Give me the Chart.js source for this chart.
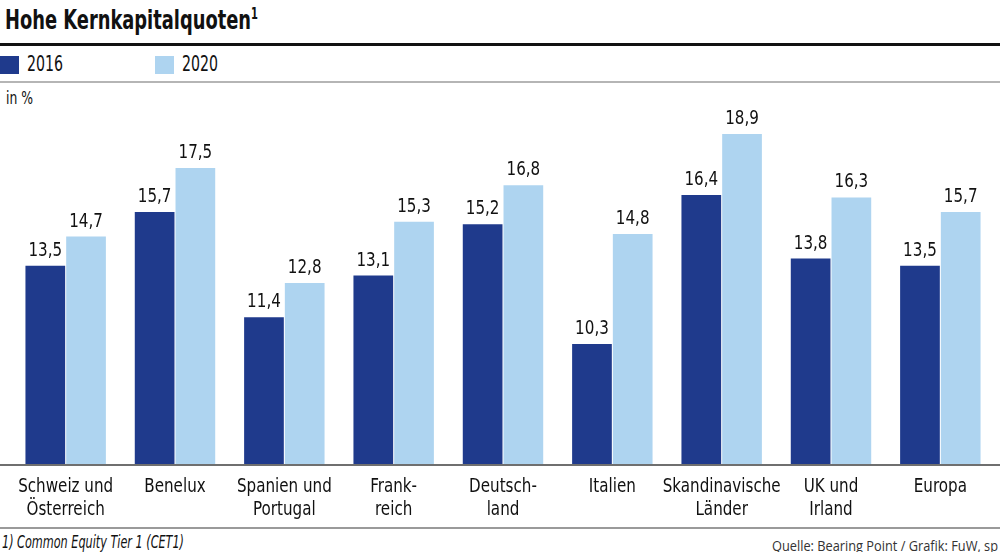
<!DOCTYPE html>
<html><head><meta charset="utf-8">
<script src="https://cdn.jsdelivr.net/npm/chart.js@4"></script>
<style>
html,body{margin:0;padding:0;background:#fff;width:1000px;height:552px;overflow:hidden;position:relative;font-family:"DejaVu Sans Condensed","DejaVu Sans",sans-serif;color:#111}
.abs{position:absolute;white-space:nowrap}
.fit{transform-origin:left top}
#title{left:5px;top:4px;font-size:27px;font-weight:bold}
#title sup{font-size:15px;vertical-align:top;position:relative;top:1px}
#rule1{left:0;top:43px;width:1000px;height:3px;background:#111}
.sw{top:56px;width:19px;height:18px}
.lg{top:52px;font-size:21px}
#rule2{left:0;top:81px;width:1000px;height:2px;background:#b5b5b5}
#unit{left:6px;top:88px;font-size:17px}
#axis{left:0;top:464px;width:1000px;height:2px;background:#6f6f6f}
#rule3{left:0;top:527px;width:1000px;height:2px;background:#9a9a9a}
#foot{left:2px;top:532px;font-size:17px;font-style:italic}
#src{left:772px;top:535px;font-size:15px;font-family:"Open Sans","DejaVu Sans",sans-serif;color:#333}
#wrap{left:0;top:90px;width:1000px;height:440px}
</style></head><body>
<div id="title" class="abs fit" data-w="253">Hohe Kernkapitalquoten<sup>1</sup></div>
<div id="rule1" class="abs"></div>
<div class="abs sw" style="left:0;background:#1f3a8c"></div>
<div class="abs lg fit" style="left:27px" data-w="36">2016</div>
<div class="abs sw" style="left:155px;background:#aed4f0"></div>
<div class="abs lg fit" style="left:182px" data-w="36">2020</div>
<div id="rule2" class="abs"></div>
<div id="unit" class="abs fit" data-w="27">in %</div>
<div id="wrap" class="abs"><canvas id="c"></canvas></div>
<div id="axis" class="abs"></div>
<div id="rule3" class="abs"></div>
<div id="foot" class="abs fit" data-w="182">1) Common Equity Tier 1 (CET1)</div>
<div id="src" class="abs fit" data-w="226">Quelle: Bearing Point / Grafik: FuW, sp</div>
<script>
const categories = [["Schweiz und","Österreich"],"Benelux",["Spanien und","Portugal"],["Frank-","reich"],["Deutsch-","land"],"Italien",["Skandinavische","Länder"],["UK und","Irland"],"Europa"];
const values2016 = [13.5,15.7,11.4,13.1,15.2,10.3,16.4,13.8,13.5];
const values2020 = [14.7,17.5,12.8,15.3,16.8,14.8,18.9,16.3,15.7];
const seriesNames = ["2016","2020"];
const FONT = '"DejaVu Sans Condensed","DejaVu Sans",sans-serif';

document.querySelectorAll('.fit').forEach(el=>{
  const w = el.getBoundingClientRect().width;
  el.style.transform = 'scaleX(' + (parseFloat(el.dataset.w)/w) + ')';
});

let SX = 0.84;
function drawText(ctx, t, x, y){
  ctx.save();
  ctx.translate(x, y);
  ctx.scale(SX, 1);
  ctx.fillText(t, 0, 0);
  ctx.restore();
}

const textPlugin = {
  id:'textPlugin',
  afterDatasetsDraw(chart){
    const ctx = chart.ctx;
    ctx.save();
    ctx.font = '20px ' + FONT;
    SX = 118 / ctx.measureText('Skandinavische').width;
    ctx.fillStyle = '#111';
    ctx.textAlign = 'center';
    ctx.textBaseline = 'alphabetic';
    chart.data.datasets.forEach((ds,i)=>{
      chart.getDatasetMeta(i).data.forEach((bar,j)=>{
        drawText(ctx, ds.data[j].toFixed(1).replace('.',','), bar.x, bar.y - 10);
      });
    });
    const xs = chart.scales.x;
    const base = xs.top;
    chart.data.labels.forEach((lab,i)=>{
      const lines = Array.isArray(lab) ? lab : [lab];
      const px = xs.getPixelForTick(i);
      lines.forEach((ln,k)=> drawText(ctx, ln, px, base + 27 + k*23));
    });
    ctx.restore();
  }
};

new Chart(document.getElementById('c'), {
  type:'bar',
  data:{
    labels:categories,
    datasets:[
      {label:seriesNames[0], data:values2016, backgroundColor:'#1f3a8c', categoryPercentage:0.745, barPercentage:0.975},
      {label:seriesNames[1], data:values2020, backgroundColor:'#aed4f0', categoryPercentage:0.745, barPercentage:0.975}
    ]
  },
  options:{
    responsive:true, maintainAspectRatio:false, animation:false,
    layout:{padding:{left:11,right:5,top:17,bottom:0}},
    plugins:{legend:{display:false}, tooltip:{enabled:false}},
    scales:{
      x:{
        grid:{display:false},
        border:{display:false},
        ticks:{display:false},
        afterFit(s){ s.height = 65; }
      },
      y:{display:false, min:5.35, max:20}
    }
  },
  plugins:[textPlugin]
});
</script>
</body></html>
